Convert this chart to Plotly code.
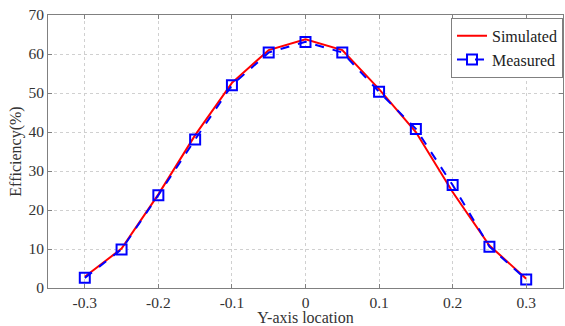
import plotly.graph_objects as go

x_loc = [-0.3, -0.25, -0.2, -0.15, -0.1, -0.05, 0, 0.05, 0.1, 0.15, 0.2, 0.25, 0.3]
simulated = [2.9, 10.1, 24.0, 39.2, 52.6, 61.0, 63.8, 61.0, 51.0, 40.0, 24.6, 10.9, 2.4]
measured = [2.6, 9.9, 23.8, 38.1, 52.0, 60.4, 63.1, 60.4, 50.3, 40.8, 26.4, 10.6, 2.2]
x_ticks = [-0.3, -0.2, -0.1, 0, 0.1, 0.2, 0.3]
x_tick_text = ["-0.3", "-0.2", "-0.1", "0", "0.1", "0.2", "0.3"]
y_ticks = [0, 10, 20, 30, 40, 50, 60, 70]

font_family = "Liberation Serif"
tick_size = 15.5
title_size = 16

fig = go.Figure()
fig.add_trace(go.Scatter(
    x=x_loc, y=simulated, mode="lines", name="Simulated",
    line=dict(color="#ff0000", width=2),
))
fig.add_trace(go.Scatter(
    x=x_loc, y=measured, mode="lines+markers", name="Measured",
    line=dict(color="#0000ff", width=2, dash="dash"),
    marker=dict(symbol="square-open", size=10, color="#0000ff", line=dict(width=2)),
))

axis_common = dict(
    showline=True, linecolor="#808080", linewidth=1, mirror="ticks",
    ticks="inside", ticklen=4, tickcolor="#808080",
    showgrid=True, gridcolor="#d0d0d0", griddash="dot", gridwidth=1,
    zeroline=False,
    tickfont=dict(family=font_family, size=tick_size, color="#333333"),
)

fig.update_layout(
    width=565, height=326,
    margin=dict(l=48, r=2, t=15, b=38),
    paper_bgcolor="white", plot_bgcolor="white",
    font=dict(family=font_family, size=title_size, color="#333333"),
    showlegend=True,
    legend=dict(
        x=1, y=0.99, xanchor="right", yanchor="top",
        bgcolor="white", bordercolor="#808080", borderwidth=1,
        font=dict(family=font_family, size=title_size, color="#222222"),
        tracegroupgap=0, itemwidth=30,
    ),
    xaxis=dict(
        range=[-0.35, 0.35], tickvals=x_ticks, ticktext=x_tick_text,
        automargin=False,
        title=dict(text="Y-axis location", standoff=0,
                   font=dict(family=font_family, size=title_size, color="#333333")),
        **axis_common,
    ),
    yaxis=dict(
        range=[0, 70], tickvals=y_ticks,
        title=dict(text="Efficiency(%)", standoff=2,
                   font=dict(family=font_family, size=title_size, color="#333333")),
        **axis_common,
    ),
)

fig.write_html("out.html")
